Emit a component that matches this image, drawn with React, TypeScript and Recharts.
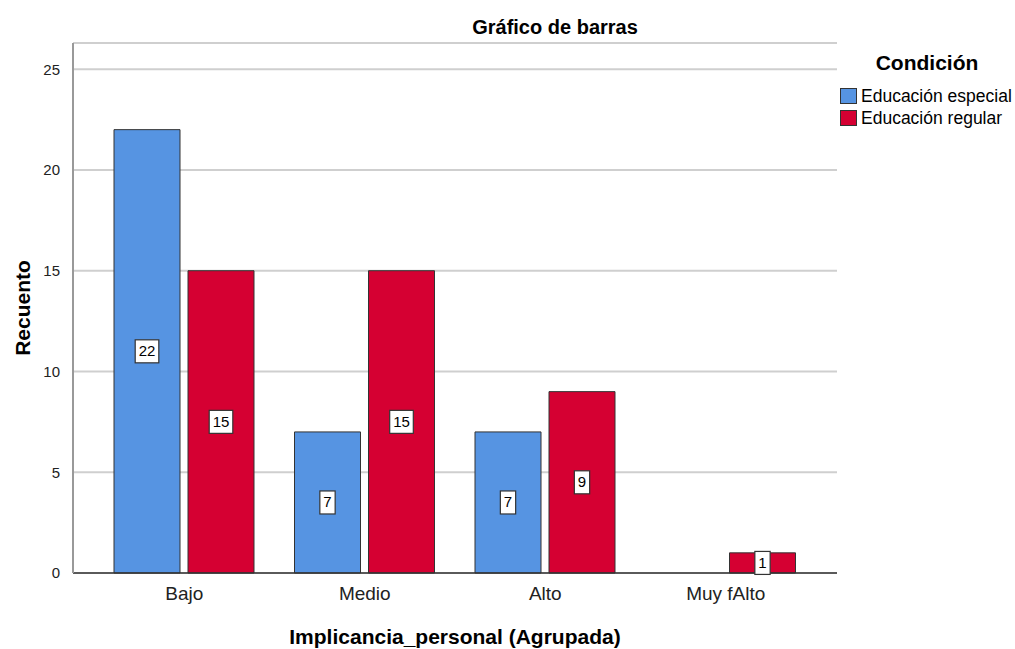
import React from "react";
import { BarChart, Bar, XAxis, YAxis, CartesianGrid, LabelList } from "recharts";

const categories = ["Bajo", "Medio", "Alto", "Muy fAlto"];
const especial = [22, 7, 7, 0];
const regular = [15, 15, 9, 1];
const yTicks = [0, 5, 10, 15, 20, 25];
const seriesNames = ["Educación especial", "Educación regular"];
const colors = ["#5694E2", "#D50032"];

const data = categories.map((c, i) => ({ cat: c, especial: especial[i], regular: regular[i] }));

const FONT = "'Liberation Sans', Arial, sans-serif";

const ValueLabel = (props: any) => {
  const { x, y, width, height, value } = props;
  if (!value) return null;
  const cx = x + width / 2;
  const cy = y + height / 2;
  const s = String(value);
  const w = s.length * 8.3 + 7;
  const h = 23;
  return (
    <g>
      <rect x={cx - w / 2} y={cy - h / 2} width={w} height={h} fill="#fff" stroke="#333" strokeWidth={1.2} />
      <text x={cx} y={cy + 1} textAnchor="middle" dominantBaseline="middle" fontFamily={FONT} fontSize={15} fill="#000">
        {s}
      </text>
    </g>
  );
};

export default function App() {
  return (
    <div style={{ position: "absolute", left: 0, top: 0, width: 1015, height: 649, background: "#fff" }}>
      <div
        style={{
          position: "absolute",
          left: 405,
          top: 14,
          width: 300,
          textAlign: "center",
          fontFamily: FONT,
          fontWeight: "bold",
          fontSize: 20,
          lineHeight: "26px",
          color: "#000",
        }}
      >
        Gráfico de barras
      </div>
      <div style={{ position: "absolute", left: 840, top: 49, width: 176, fontFamily: FONT, color: "#000" }}>
        <div style={{ fontWeight: "bold", fontSize: 21, lineHeight: "28px", textAlign: "center", width: 174, marginBottom: 8 }}>
          Condición
        </div>
        {seriesNames.map((n, i) => (
          <div key={n} style={{ display: "flex", alignItems: "center", height: 22, fontSize: 17.5, whiteSpace: "nowrap" }}>
            <div style={{ width: 15, height: 14, background: colors[i], border: "1px solid #333", marginRight: 4, flexShrink: 0 }} />
            <span>{n}</span>
          </div>
        ))}
      </div>
      <BarChart
        width={1016}
        height={649}
        data={data}
        margin={{ top: 43, right: 179, bottom: 0, left: 1 }}
        barGap={8}
        barSize={66}
      >
        <CartesianGrid vertical={false} stroke="#cfcfcf" strokeWidth={2} />
        <XAxis
          dataKey="cat"
          height={76}
          padding={{ left: 21, right: 21 }}
          tickLine={false}
          axisLine={{ stroke: "#333", strokeWidth: 1.5 }}
          tick={{ fontFamily: FONT, fontSize: 19, fill: "#222" }}
          tickMargin={8}
          label={(p: any) => {
            const vb = p.viewBox;
            return (
              <text
                x={vb.x + vb.width / 2}
                y={vb.y + 63}
                textAnchor="middle"
                dominantBaseline="central"
                fontFamily={FONT}
                fontWeight="bold"
                fontSize={21}
                fill="#000"
              >
                Implicancia_personal (Agrupada)
              </text>
            );
          }}
        />
        <YAxis
          width={72}
          domain={[0, 26.3]}
          ticks={yTicks}
          tickLine={false}
          axisLine={{ stroke: "#999", strokeWidth: 2 }}
          tick={{ fontFamily: FONT, fontSize: 15, fill: "#222" }}
          tickMargin={7}
          label={(p: any) => {
            const vb = p.viewBox;
            const cx = vb.x + 21;
            const cy = vb.y + vb.height / 2;
            return (
              <text
                x={cx}
                y={cy}
                transform={`rotate(-90 ${cx} ${cy})`}
                textAnchor="middle"
                dominantBaseline="central"
                fontFamily={FONT}
                fontWeight="bold"
                fontSize={21}
                fill="#000"
              >
                Recuento
              </text>
            );
          }}
        />
        <Bar dataKey="especial" name={seriesNames[0]} fill={colors[0]} stroke="#333" strokeWidth={1} isAnimationActive={false}>
          <LabelList dataKey="especial" content={ValueLabel} />
        </Bar>
        <Bar dataKey="regular" name={seriesNames[1]} fill={colors[1]} stroke="#333" strokeWidth={1} isAnimationActive={false}>
          <LabelList dataKey="regular" content={ValueLabel} />
        </Bar>
      </BarChart>
    </div>
  );
}
